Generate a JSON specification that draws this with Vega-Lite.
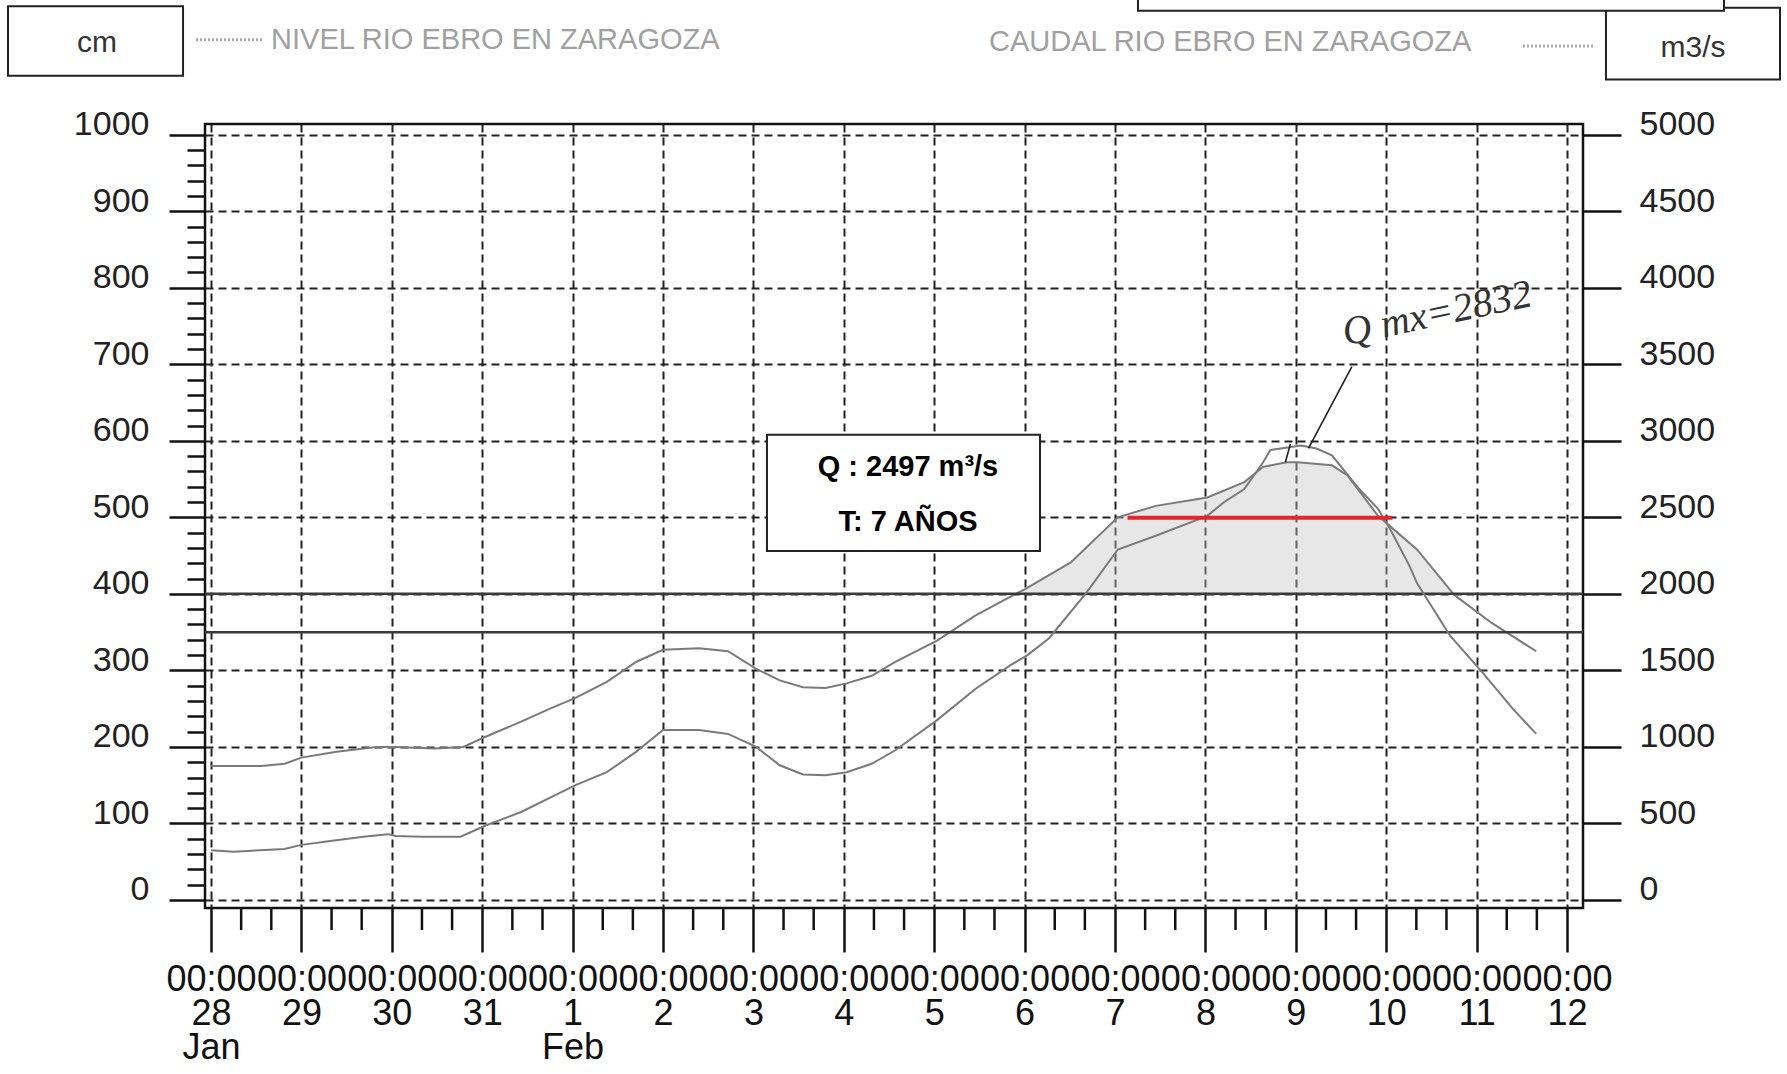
{
  "$schema": "https://vega.github.io/schema/vega-lite/v6.json",
  "width": 1378,
  "height": 784,
  "autosize": {"type": "none"},
  "padding": {"left": 205, "top": 124, "right": 204, "bottom": 166},
  "background": "white",
  "datasets": {
    "caudal": [
      {"t": "2003-01-28T00:00", "q": 875},
      {"t": "2003-01-28T13:25", "q": 875},
      {"t": "2003-01-28T19:35", "q": 890},
      {"t": "2003-01-29T00:00", "q": 930},
      {"t": "2003-01-29T09:20", "q": 968},
      {"t": "2003-01-29T19:55", "q": 1000},
      {"t": "2003-01-30T01:00", "q": 1000},
      {"t": "2003-01-30T11:15", "q": 990},
      {"t": "2003-01-30T19:00", "q": 1000},
      {"t": "2003-01-31T00:45", "q": 1065},
      {"t": "2003-01-31T10:20", "q": 1165},
      {"t": "2003-01-31T18:00", "q": 1250},
      {"t": "2003-02-01T00:45", "q": 1320},
      {"t": "2003-02-01T09:05", "q": 1425},
      {"t": "2003-02-01T16:50", "q": 1555},
      {"t": "2003-02-02T00:00", "q": 1635},
      {"t": "2003-02-02T09:35", "q": 1645},
      {"t": "2003-02-02T17:15", "q": 1625},
      {"t": "2003-02-03T00:45", "q": 1510},
      {"t": "2003-02-03T07:00", "q": 1435},
      {"t": "2003-02-03T13:10", "q": 1390},
      {"t": "2003-02-03T19:10", "q": 1385},
      {"t": "2003-02-04T00:45", "q": 1415},
      {"t": "2003-02-04T07:25", "q": 1465},
      {"t": "2003-02-04T13:40", "q": 1555},
      {"t": "2003-02-05T00:45", "q": 1695},
      {"t": "2003-02-05T11:00", "q": 1860},
      {"t": "2003-02-05T20:10", "q": 1980},
      {"t": "2003-02-05T21:40", "q": 2000},
      {"t": "2003-02-06T00:00", "q": 2030},
      {"t": "2003-02-06T12:15", "q": 2205},
      {"t": "2003-02-07T00:45", "q": 2500},
      {"t": "2003-02-07T10:50", "q": 2575},
      {"t": "2003-02-08T00:30", "q": 2630},
      {"t": "2003-02-08T10:20", "q": 2730},
      {"t": "2003-02-08T15:20", "q": 2830},
      {"t": "2003-02-08T21:35", "q": 2860},
      {"t": "2003-02-09T00:30", "q": 2860},
      {"t": "2003-02-09T09:35", "q": 2840},
      {"t": "2003-02-09T13:40", "q": 2775},
      {"t": "2003-02-09T21:50", "q": 2510},
      {"t": "2003-02-10T08:10", "q": 2290},
      {"t": "2003-02-10T17:50", "q": 2000},
      {"t": "2003-02-10T18:30", "q": 1985},
      {"t": "2003-02-11T04:00", "q": 1810},
      {"t": "2003-02-11T15:50", "q": 1625}
    ],
    "nivel": [
      {"t": "2003-01-28T00:00", "h": 65},
      {"t": "2003-01-28T06:00", "h": 63},
      {"t": "2003-01-28T13:00", "h": 65},
      {"t": "2003-01-28T19:30", "h": 66.5},
      {"t": "2003-01-29T00:00", "h": 72},
      {"t": "2003-01-29T07:40", "h": 77},
      {"t": "2003-01-29T17:00", "h": 83},
      {"t": "2003-01-29T23:00", "h": 86},
      {"t": "2003-01-30T01:00", "h": 83.5},
      {"t": "2003-01-30T08:10", "h": 82.6},
      {"t": "2003-01-30T18:15", "h": 82.6},
      {"t": "2003-01-31T00:45", "h": 97},
      {"t": "2003-01-31T10:20", "h": 115},
      {"t": "2003-02-01T00:45", "h": 150},
      {"t": "2003-02-01T09:05", "h": 167},
      {"t": "2003-02-01T16:50", "h": 193.5},
      {"t": "2003-02-02T00:00", "h": 222},
      {"t": "2003-02-02T09:35", "h": 222},
      {"t": "2003-02-02T17:15", "h": 217},
      {"t": "2003-02-03T00:45", "h": 200},
      {"t": "2003-02-03T07:00", "h": 176},
      {"t": "2003-02-03T13:10", "h": 164},
      {"t": "2003-02-03T19:10", "h": 163},
      {"t": "2003-02-04T00:45", "h": 167},
      {"t": "2003-02-04T07:25", "h": 178},
      {"t": "2003-02-04T13:40", "h": 195.6},
      {"t": "2003-02-05T00:45", "h": 235},
      {"t": "2003-02-05T11:00", "h": 276},
      {"t": "2003-02-05T20:10", "h": 306.5},
      {"t": "2003-02-06T00:45", "h": 320},
      {"t": "2003-02-06T06:30", "h": 342},
      {"t": "2003-02-06T16:20", "h": 401},
      {"t": "2003-02-07T00:45", "h": 458},
      {"t": "2003-02-07T10:50", "h": 476},
      {"t": "2003-02-08T00:30", "h": 502},
      {"t": "2003-02-08T05:00", "h": 520},
      {"t": "2003-02-08T10:20", "h": 537},
      {"t": "2003-02-08T15:20", "h": 572},
      {"t": "2003-02-08T17:15", "h": 588},
      {"t": "2003-02-08T21:20", "h": 591},
      {"t": "2003-02-09T01:25", "h": 594},
      {"t": "2003-02-09T05:30", "h": 590},
      {"t": "2003-02-09T09:35", "h": 581},
      {"t": "2003-02-09T11:45", "h": 568},
      {"t": "2003-02-09T16:50", "h": 537},
      {"t": "2003-02-09T21:50", "h": 511},
      {"t": "2003-02-10T01:00", "h": 485},
      {"t": "2003-02-10T06:15", "h": 436},
      {"t": "2003-02-10T08:10", "h": 414},
      {"t": "2003-02-10T17:00", "h": 345},
      {"t": "2003-02-11T01:25", "h": 298},
      {"t": "2003-02-11T09:35", "h": 250},
      {"t": "2003-02-11T15:50", "h": 217}
    ],
    "marcas": [
      {"t": "2003-01-28T08:00"}, {"t": "2003-01-28T16:00"},
      {"t": "2003-01-29T08:00"}, {"t": "2003-01-29T16:00"},
      {"t": "2003-01-30T08:00"}, {"t": "2003-01-30T16:00"},
      {"t": "2003-01-31T08:00"}, {"t": "2003-01-31T16:00"},
      {"t": "2003-02-01T08:00"}, {"t": "2003-02-01T16:00"},
      {"t": "2003-02-02T08:00"}, {"t": "2003-02-02T16:00"},
      {"t": "2003-02-03T08:00"}, {"t": "2003-02-03T16:00"},
      {"t": "2003-02-04T08:00"}, {"t": "2003-02-04T16:00"},
      {"t": "2003-02-05T08:00"}, {"t": "2003-02-05T16:00"},
      {"t": "2003-02-06T08:00"}, {"t": "2003-02-06T16:00"},
      {"t": "2003-02-07T08:00"}, {"t": "2003-02-07T16:00"},
      {"t": "2003-02-08T08:00"}, {"t": "2003-02-08T16:00"},
      {"t": "2003-02-09T08:00"}, {"t": "2003-02-09T16:00"},
      {"t": "2003-02-10T08:00"}, {"t": "2003-02-10T16:00"},
      {"t": "2003-02-11T08:00"}, {"t": "2003-02-11T16:00"}
    ],
    "umbrales": [{"h": 400}, {"h": 350}],
    "cajas": [
      {"t1": "2003-01-25T18:06", "t2": "2003-01-27T16:34", "h1": 1077, "h2": 1168},
      {"t1": "2003-02-12T10:21", "t2": "2003-02-14T08:33", "h1": 1072, "h2": 1166},
      {"t1": "2003-02-07T06:06", "t2": "2003-02-13T17:41", "h1": 1162, "h2": 1202},
      {"t1": "2003-02-03T03:36", "t2": "2003-02-06T04:05", "h1": 456, "h2": 608}
    ],
    "unidades": [
      {"t": "2003-01-26T17:44", "h": 1120, "txt": "cm"},
      {"t": "2003-02-13T09:27", "h": 1113, "txt": "m3/s"}
    ],
    "titulos": [
      {"t": "2003-01-28T15:56", "h": 1124, "txt": "NIVEL RIO EBRO EN ZARAGOZA"},
      {"t": "2003-02-05T14:33", "h": 1121, "txt": "CAUDAL RIO EBRO EN ZARAGOZA"}
    ],
    "muestras": [
      {"t1": "2003-01-27T20:01", "t2": "2003-01-28T14:04", "h": 1124},
      {"t1": "2003-02-11T12:19", "t2": "2003-02-12T06:55", "h": 1116}
    ],
    "etiqueta": [
      {"t": "2003-02-04T17:02", "h": 566, "txt": "Q : 2497 m³/s"},
      {"t": "2003-02-04T17:02", "h": 494, "txt": "T: 7 AÑOS"}
    ],
    "nota": [{"t": "2003-02-10T13:30", "h": 766, "txt": "Q mx=2832"}],
    "trazos": [
      {"t1": "2003-02-09T14:53", "h1": 697, "t2": "2003-02-09T03:22", "h2": 590},
      {"t1": "2003-02-08T22:34", "h1": 596, "t2": "2003-02-08T21:14", "h2": 572}
    ],
    "umbralQ": [{"t1": "2003-02-07T03:20", "t2": "2003-02-10T01:40", "q": 2497}]
  },
  "layer": [
    {
      "data": {"name": "caudal"},
      "transform": [{"filter": "datum.q >= 2000"}],
      "mark": {"type": "area", "fill": "#c4c4c4", "opacity": 0.4},
      "encoding": {
        "x": {"field": "t", "type": "temporal", "axis": null, "scale": {"domain": [{"year": 2003, "month": 1, "date": 27, "hours": 22, "minutes": 24}, {"year": 2003, "month": 2, "date": 12, "hours": 4, "minutes": 15}]}},
        "y": {"field": "q", "type": "quantitative", "axis": null, "scale": {"domain": [-52.5, 5070], "nice": false, "zero": false}},
        "y2": {"datum": 2000}
      }
    },
    {
      "data": {"name": "caudal"},
      "mark": {"type": "line", "stroke": "#7a7a7a", "strokeWidth": 2},
      "encoding": {
        "x": {"field": "t", "type": "temporal", "axis": null, "scale": {"domain": [{"year": 2003, "month": 1, "date": 27, "hours": 22, "minutes": 24}, {"year": 2003, "month": 2, "date": 12, "hours": 4, "minutes": 15}]}},
        "y": {"field": "q", "type": "quantitative", "scale": {"domain": [-52.5, 5070], "nice": false, "zero": false},
          "axis": {"orient": "right", "title": null, "values": [0, 500, 1000, 1500, 2000, 2500, 3000, 3500, 4000, 4500, 5000], "format": "d", "domain": false, "grid": false, "ticks": true, "tickSize": 38, "tickWidth": 2.5, "tickColor": "#111", "labelFont": "Liberation Sans", "labelFontSize": 34, "labelColor": "#222", "labelPadding": 18, "labelAlign": "left", "labelBaseline": "alphabetic", "labelOverlap": false}}
      }
    },
    {
      "data": {"name": "umbrales"},
      "mark": {"type": "rule", "stroke": "#3a3a3a", "strokeWidth": 2.5},
      "encoding": {
        "y": {"field": "h", "type": "quantitative", "axis": null, "scale": {"domain": [-10.5, 1014], "nice": false, "zero": false}}
      }
    },
    {
      "data": {"name": "marcas"},
      "mark": {"type": "rule", "stroke": "#111", "strokeWidth": 2.5},
      "encoding": {
        "x": {"field": "t", "type": "temporal", "axis": null, "scale": {"domain": [{"year": 2003, "month": 1, "date": 27, "hours": 22, "minutes": 24}, {"year": 2003, "month": 2, "date": 12, "hours": 4, "minutes": 15}]}},
        "y": {"datum": -10.5, "type": "quantitative", "axis": null, "scale": {"domain": [-10.5, 1014], "nice": false, "zero": false}},
        "y2": {"datum": -39.3}
      }
    },
    {
      "data": {"name": "nivel"},
      "mark": {"type": "line", "stroke": "#7a7a7a", "strokeWidth": 2},
      "encoding": {
        "x": {"field": "t", "type": "temporal", "scale": {"domain": [{"year": 2003, "month": 1, "date": 27, "hours": 22, "minutes": 24}, {"year": 2003, "month": 2, "date": 12, "hours": 4, "minutes": 15}]},
          "axis": {"orient": "bottom", "title": null, "tickCount": {"interval": "day", "step": 1}, "domain": false, "grid": true, "gridColor": "#222", "gridDash": [8, 5], "gridWidth": 2,
            "tickSize": 44, "tickWidth": 2.5, "tickColor": "#111",
            "labelExpr": "date(datum.value) === 28 ? ['00:00', '28', 'Jan'] : (date(datum.value) === 1 ? ['00:00', '1', 'Feb'] : ['00:00', '' + date(datum.value)])",
            "labelFont": "Liberation Sans", "labelFontSize": 36, "labelColor": "#111", "labelPadding": 10, "labelLineHeight": 34, "labelBaseline": "top", "labelOverlap": false, "labelFlush": false, "labelBound": false}},
        "y": {"field": "h", "type": "quantitative", "scale": {"domain": [-10.5, 1014], "nice": false, "zero": false},
          "axis": {"orient": "left", "title": null, "values": [0, 20, 40, 60, 80, 100, 120, 140, 160, 180, 200, 220, 240, 260, 280, 300, 320, 340, 360, 380, 400, 420, 440, 460, 480, 500, 520, 540, 560, 580, 600, 620, 640, 660, 680, 700, 720, 740, 760, 780, 800, 820, 840, 860, 880, 900, 920, 940, 960, 980, 1000],
            "format": "d", "labelExpr": "datum.value % 100 === 0 ? datum.label : ''", "domain": false, "grid": true, "gridColor": "#222", "gridDash": [8, 5], "gridWidth": 2,
            "gridOpacity": {"condition": {"test": "datum.value % 100 === 0", "value": 1}, "value": 0},
            "tickSize": 36, "tickWidth": 2.5, "tickColor": "#111",
            "tickDash": {"condition": {"test": "datum.value % 100 !== 0", "value": [18, 60]}, "value": [60, 1]},
            "labelFont": "Liberation Sans", "labelFontSize": 34, "labelColor": "#222", "labelPadding": 20, "labelBaseline": "alphabetic", "labelOverlap": false}}
      }
    },
    {
      "data": {"name": "cajas"},
      "mark": {"type": "rect", "fill": "white", "stroke": "#222", "strokeWidth": 2},
      "encoding": {
        "x": {"field": "t1", "type": "temporal", "axis": null, "scale": {"domain": [{"year": 2003, "month": 1, "date": 27, "hours": 22, "minutes": 24}, {"year": 2003, "month": 2, "date": 12, "hours": 4, "minutes": 15}]}},
        "x2": {"field": "t2"},
        "y": {"field": "h1", "type": "quantitative", "axis": null, "scale": {"domain": [-10.5, 1014], "nice": false, "zero": false}},
        "y2": {"field": "h2"}
      }
    },
    {
      "data": {"name": "muestras"},
      "mark": {"type": "rule", "stroke": "#aaaaaa", "strokeWidth": 3, "strokeDash": [2, 2]},
      "encoding": {
        "x": {"field": "t1", "type": "temporal", "axis": null, "scale": {"domain": [{"year": 2003, "month": 1, "date": 27, "hours": 22, "minutes": 24}, {"year": 2003, "month": 2, "date": 12, "hours": 4, "minutes": 15}]}},
        "x2": {"field": "t2"},
        "y": {"field": "h", "type": "quantitative", "axis": null, "scale": {"domain": [-10.5, 1014], "nice": false, "zero": false}}
      }
    },
    {
      "data": {"name": "unidades"},
      "mark": {"type": "text", "font": "Liberation Sans", "fontSize": 30, "fill": "#333", "align": "center", "baseline": "middle"},
      "encoding": {
        "x": {"field": "t", "type": "temporal", "axis": null, "scale": {"domain": [{"year": 2003, "month": 1, "date": 27, "hours": 22, "minutes": 24}, {"year": 2003, "month": 2, "date": 12, "hours": 4, "minutes": 15}]}},
        "y": {"field": "h", "type": "quantitative", "axis": null, "scale": {"domain": [-10.5, 1014], "nice": false, "zero": false}},
        "text": {"field": "txt"}
      }
    },
    {
      "data": {"name": "titulos"},
      "mark": {"type": "text", "font": "Liberation Sans", "fontSize": 29, "fill": "#a0a0a0", "align": "left", "baseline": "middle"},
      "encoding": {
        "x": {"field": "t", "type": "temporal", "axis": null, "scale": {"domain": [{"year": 2003, "month": 1, "date": 27, "hours": 22, "minutes": 24}, {"year": 2003, "month": 2, "date": 12, "hours": 4, "minutes": 15}]}},
        "y": {"field": "h", "type": "quantitative", "axis": null, "scale": {"domain": [-10.5, 1014], "nice": false, "zero": false}},
        "text": {"field": "txt"}
      }
    },
    {
      "data": {"name": "etiqueta"},
      "mark": {"type": "text", "font": "Liberation Sans", "fontSize": 29, "fontWeight": "bold", "fill": "#000", "align": "center", "baseline": "middle"},
      "encoding": {
        "x": {"field": "t", "type": "temporal", "axis": null, "scale": {"domain": [{"year": 2003, "month": 1, "date": 27, "hours": 22, "minutes": 24}, {"year": 2003, "month": 2, "date": 12, "hours": 4, "minutes": 15}]}},
        "y": {"field": "h", "type": "quantitative", "axis": null, "scale": {"domain": [-10.5, 1014], "nice": false, "zero": false}},
        "text": {"field": "txt"}
      }
    },
    {
      "data": {"name": "trazos"},
      "mark": {"type": "rule", "stroke": "#222", "strokeWidth": 1.6},
      "encoding": {
        "x": {"field": "t1", "type": "temporal", "axis": null, "scale": {"domain": [{"year": 2003, "month": 1, "date": 27, "hours": 22, "minutes": 24}, {"year": 2003, "month": 2, "date": 12, "hours": 4, "minutes": 15}]}},
        "x2": {"field": "t2"},
        "y": {"field": "h1", "type": "quantitative", "axis": null, "scale": {"domain": [-10.5, 1014], "nice": false, "zero": false}},
        "y2": {"field": "h2"}
      }
    },
    {
      "data": {"name": "nota"},
      "mark": {"type": "text", "font": "Liberation Serif", "fontSize": 40, "fontStyle": "italic", "fill": "#333", "align": "center", "baseline": "middle", "angle": -12},
      "encoding": {
        "x": {"field": "t", "type": "temporal", "axis": null, "scale": {"domain": [{"year": 2003, "month": 1, "date": 27, "hours": 22, "minutes": 24}, {"year": 2003, "month": 2, "date": 12, "hours": 4, "minutes": 15}]}},
        "y": {"field": "h", "type": "quantitative", "axis": null, "scale": {"domain": [-10.5, 1014], "nice": false, "zero": false}},
        "text": {"field": "txt"}
      }
    },
    {
      "data": {"name": "umbralQ"},
      "mark": {"type": "rule", "stroke": "#e3262e", "strokeWidth": 4},
      "encoding": {
        "x": {"field": "t1", "type": "temporal", "axis": null, "scale": {"domain": [{"year": 2003, "month": 1, "date": 27, "hours": 22, "minutes": 24}, {"year": 2003, "month": 2, "date": 12, "hours": 4, "minutes": 15}]}},
        "x2": {"field": "t2"},
        "y": {"field": "q", "type": "quantitative", "axis": null, "scale": {"domain": [-52.5, 5070], "nice": false, "zero": false}}
      }
    }
  ],
  "resolve": {"scale": {"y": "independent"}, "axis": {"x": "independent"}},
  "config": {
    "font": "Liberation Sans",
    "view": {"stroke": "#111", "strokeWidth": 2.5}
  }
}
